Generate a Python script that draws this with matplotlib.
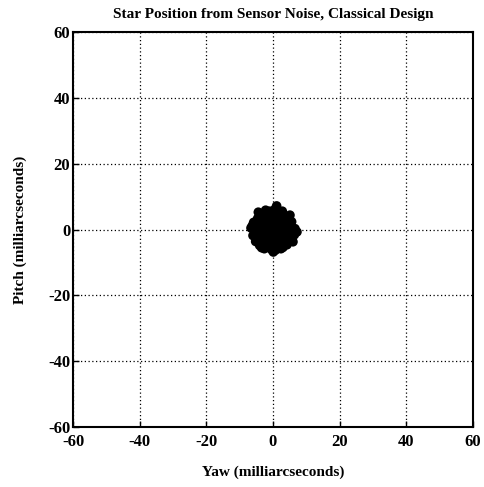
import numpy as np
import matplotlib.pyplot as plt

# star position samples (milliarcseconds)
yaw = [0, -2, 2, -2, 2, -3.5, 3.5, 0, 0, -4.5, -4.5, 4.5, 4.5, -1.5, 1.5, -1.5, 1.5,
       -3.5, 3.5, -3.5, 3.5, 1.1, 0.6, -4.4, -3.8, 7.2, 6.6, 6.0, 5.1, -6.6, -6.0, 0.1, -0.5,
       -3.4, -2.6, -5.8, 5.6, 2.8, -1.0, 3.0, -5.2, 5.4, 0.8, -2.2, 2.4,
       -1, 1, -1, 1, -2.5, 2.5, 0, 0, -5.5, 5.5, -6.2, 6.4, 4.2, -4.0, 4.0, -4.6]
pitch = [0, 2, 2, -2, -2, 0, 0, 3.5, -3.5, 1.5, -1.5, 1.5, -1.5, 4.5, 4.5, -4.5, -4.5,
         3.5, 3.5, -3.5, -3.5, 7.2, 6.2, 5.3, 4.8, -0.7, 0.3, -3.7, 4.4, 0.5, -1.8, -6.8, -6.0,
         -5.5, -5.8, 2.2, 2.4, 5.6, 5.6, -5.4, -3.6, -2.2, -6.2, 5.9, -5.8,
         1, 1, -1, -1, 0, 0, 2, -2, -0.6, 0.8, 1.2, -1.6, -4.6, -4.8, 3.0, 3.4]

plt.rc('font', family='Liberation Serif', weight='bold')
plt.rcParams['axes.unicode_minus'] = False
fig = plt.figure(figsize=(4.84, 4.87), dpi=100)
ax = fig.add_axes([0.151, 0.123, 0.826, 0.811])

ax.scatter(yaw, pitch, s=48, color="black", edgecolors="none", zorder=3)

ax.set_xlim(-60, 60)
ax.set_ylim(-60, 60)
ax.set_xticks(np.arange(-60, 61, 20))
ax.set_yticks(np.arange(-60, 61, 20))
ax.grid(True, linestyle=(0, (1, 2)), color="black", linewidth=0.9)
ax.tick_params(direction="in", length=4, width=1, labelsize=12)
ax.tick_params(axis="x", pad=5)
ax.tick_params(axis="y", pad=2)
for spine in ax.spines.values():
    spine.set_linewidth(1.5)

ax.set_title("Star Position from Sensor Noise, Classical Design", fontsize=11, fontweight="bold", pad=10)
ax.set_xlabel("Yaw (milliarcseconds)", fontsize=11, fontweight="bold", labelpad=11)
ax.set_ylabel("Pitch (milliarcseconds)", fontsize=11, fontweight="bold", labelpad=15)

fig.savefig("out.png", dpi=100)
